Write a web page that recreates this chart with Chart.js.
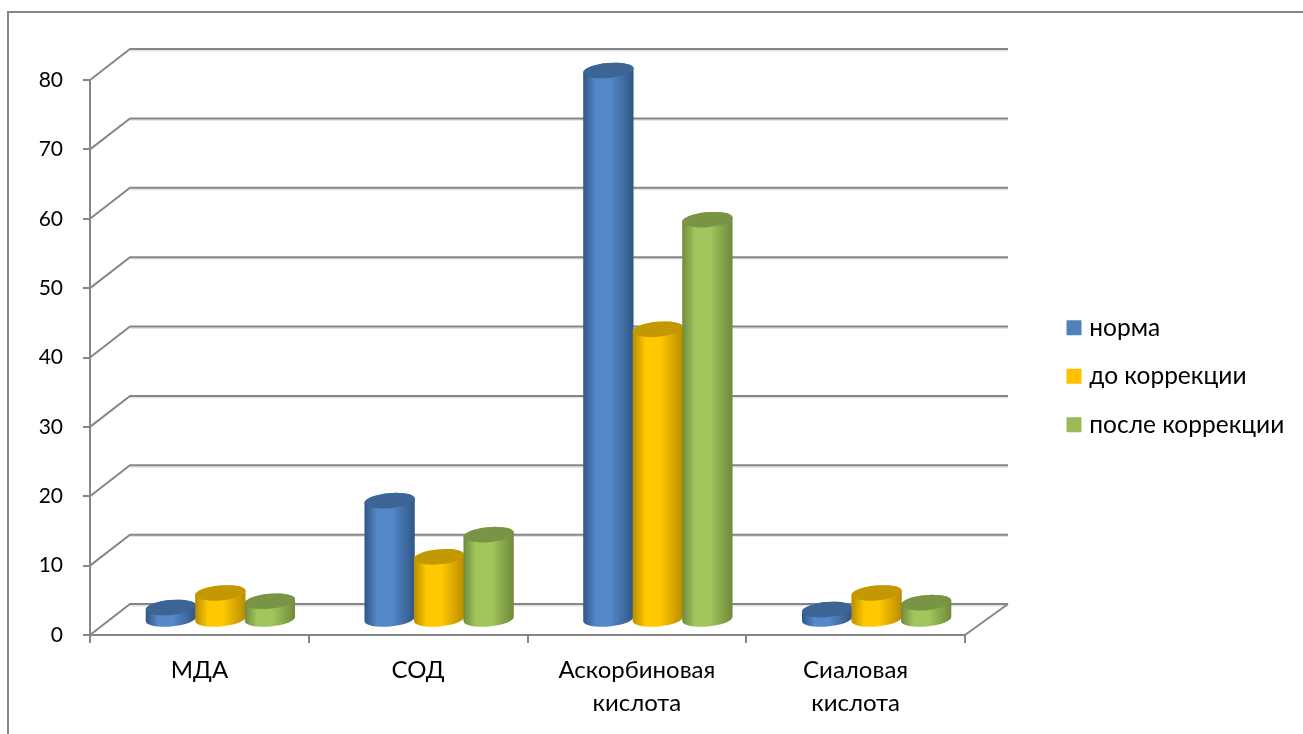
<!DOCTYPE html>
<html>
<head>
<meta charset="utf-8">
<style>
  html, body { margin: 0; padding: 0; background: #fff; overflow: hidden; }
  canvas { display: block; }
</style>
<script src="https://cdn.jsdelivr.net/npm/chart.js@4"></script>
</head>
<body>
<canvas id="myChart" width="1303" height="734"></canvas>
<script>
const categories = ['МДА', 'СОД', ['Аскорбиновая', 'кислота'], ['Сиаловая', 'кислота']];
const seriesNames = ['норма', 'до коррекции', 'после коррекции'];
const norma = [1.8, 17.2, 79.2, 1.5];
const doKorr = [3.9, 9.1, 41.9, 3.9];
const posleKorr = [2.7, 12.3, 57.7, 2.5];
const seriesColors = ['#4f81bd', '#ffc000', '#9bbb59'];

// center / edge / top of each cylinder
const shades = [
  ['#5488c8', '#2f5684', '#3c6595'],
  ['#ffc800', '#b98c00', '#c49800'],
  ['#a3c65c', '#6f8a3c', '#7a9446']
];

const grey = '#868686';
const depthX = 40, depthY = 31;
const midX = 21, midY = 15;
const tilt = -0.09;

function line(ctx, pts, color, width) {
  ctx.beginPath();
  pts.forEach((p, i) => i ? ctx.lineTo(p[0], p[1]) : ctx.moveTo(p[0], p[1]));
  ctx.strokeStyle = color;
  ctx.lineWidth = width;
  ctx.stroke();
}

function cylinder(ctx, x, top, base, w, s) {
  const rx = w / 2 + 0.5, ry = 7.5;
  const g = ctx.createLinearGradient(x - rx, 0, x + rx, 0);
  g.addColorStop(0, s[1]);
  g.addColorStop(0.25, s[0]);
  g.addColorStop(0.55, s[0]);
  g.addColorStop(1, s[1]);
  ctx.beginPath();
  ctx.ellipse(x, base, rx, ry, tilt, 0, Math.PI);
  ctx.ellipse(x, top, rx, ry, tilt, Math.PI, Math.PI * 2);
  ctx.closePath();
  ctx.fillStyle = g;
  ctx.fill();
  ctx.beginPath();
  ctx.ellipse(x, top, rx, ry, tilt, 0, Math.PI * 2);
  ctx.fillStyle = s[2];
  ctx.fill();
}

const cylinders = {
  id: 'cylinders',
  beforeLayout(chart) {
    const legend = chart.legend;
    if (legend.fitDone) return;
    const fit = legend.fit;
    legend.fit = function () {
      fit.call(this);
      this.width = 338;
    };
    legend.fitDone = true;
  },
  afterLayout(chart) {
    chart.legend.left = 1047;
    chart.legend.top = 291.5;
  },
  beforeDraw(chart) {
    line(chart.ctx, [[8, 734], [8, 12], [1303, 12]], grey, 2);
  },
  beforeDatasetsDraw(chart) {
    const ctx = chart.ctx, y = chart.scales.y, a = chart.chartArea;
    y.ticks.forEach(t => {
      const py = y.getPixelForValue(t.value);
      line(ctx, [[a.left + depthX, py - depthY + 1.7], [a.right + depthX + 3, py - depthY + 1.7]], '#e2e2e2', 1.5);
      line(ctx, [[a.left, py], [a.left + depthX, py - depthY], [a.right + depthX + 3, py - depthY]], grey, 2);
    });
    line(ctx, [[a.right, a.bottom], [a.right + depthX + 3, a.bottom - depthY]], grey, 2);
  },
  beforeDatasetDraw() {
    return false;
  },
  afterDatasetsDraw(chart) {
    const ctx = chart.ctx;
    chart.data.datasets.forEach((d, i) => {
      chart.getDatasetMeta(i).data.forEach(bar => {
        cylinder(ctx, bar.x + midX, bar.y - midY, bar.base - midY, bar.width, shades[i]);
      });
    });
  }
};

const family = 'Lato, Carlito, "Open Sans", sans-serif';

new Chart(document.getElementById('myChart'), {
  type: 'bar',
  data: {
    labels: categories,
    datasets: [norma, doKorr, posleKorr].map((v, i) => ({
      label: seriesNames[i],
      data: v,
      backgroundColor: seriesColors[i],
      borderColor: seriesColors[i],
      borderWidth: 9,
      categoryPercentage: 0.679,
      barPercentage: 1
    }))
  },
  plugins: [cylinders],
  options: {
    responsive: false,
    animation: false,
    layout: { padding: { top: 80, left: 0, right: 0, bottom: 0 } },
    plugins: {
      tooltip: { enabled: false },
      legend: {
        position: 'right',
        align: 'start',
        labels: { color: '#000', font: { family: family, size: 24.5 }, boxWidth: 6, boxHeight: 6, padding: 24 }
      }
    },
    scales: {
      x: {
        afterFit: s => { s.height = 99; },
        border: { color: grey, width: 2 },
        grid: { color: grey, lineWidth: 2, drawOnChartArea: false, tickLength: 8 },
        ticks: { color: '#000', font: { family: family, size: 24, lineHeight: 1.38 }, maxRotation: 0, padding: 11 }
      },
      y: {
        min: 0,
        max: 80,
        afterFit: s => { s.width = 90; },
        border: { color: grey, width: 2 },
        grid: { color: grey, lineWidth: 2, drawOnChartArea: false, tickLength: 7 },
        ticks: { color: '#000', font: { family: family, size: 21 }, stepSize: 10, padding: 20 }
      }
    }
  }
});
</script>
</body>
</html>
